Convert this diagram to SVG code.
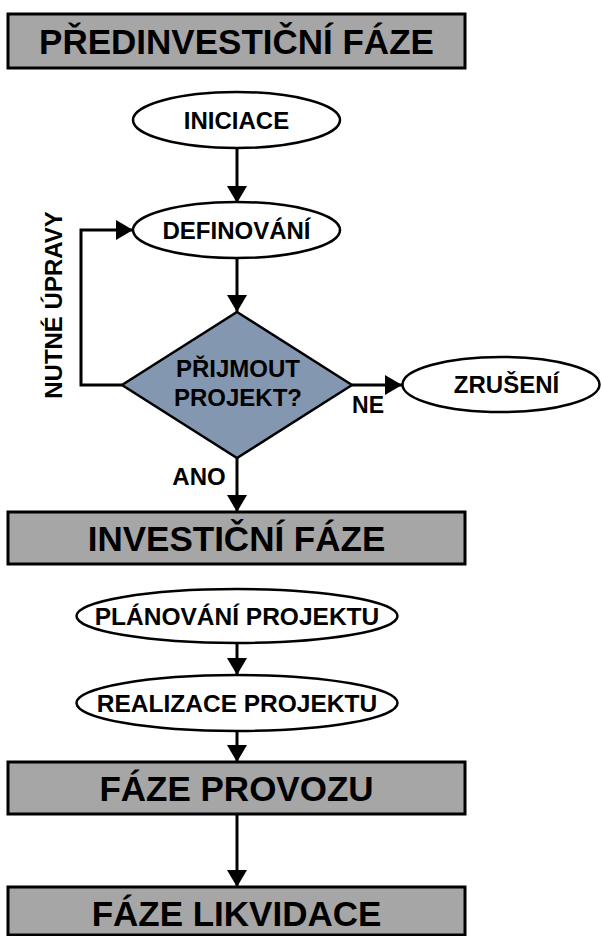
<svg xmlns="http://www.w3.org/2000/svg" width="602" height="936" viewBox="0 0 602 936">
<style>
.box{fill:#a6a6a6;stroke:#000;stroke-width:3}
.ell{fill:#fff;stroke:#000;stroke-width:2.5}
.dia{fill:#8497b0;stroke:#000;stroke-width:2.5}
.t{font-family:"Liberation Sans",Arial,sans-serif;font-weight:bold;fill:#000;text-anchor:middle}
.big{font-size:35px}
.mid{font-size:24px}
.con{fill:none;stroke:#000;stroke-width:3}
</style>
<defs>
<marker id="ah" markerUnits="userSpaceOnUse" markerWidth="18" markerHeight="20" refX="17" refY="10" orient="auto">
<path d="M0,0 L17,10 L0,20 z" fill="#000"/>
</marker>
</defs>
<rect width="602" height="936" fill="#fff"/>
<g id="connectors">
<line class="con" x1="237" y1="148" x2="237" y2="203" marker-end="url(#ah)"/>
<line class="con" x1="237" y1="258" x2="237" y2="312" marker-end="url(#ah)"/>
<polyline class="con" points="122,385 81,385 81,230 133,230" marker-end="url(#ah)"/>
<line class="con" x1="352" y1="385" x2="402" y2="385" marker-end="url(#ah)"/>
<line class="con" x1="237" y1="458" x2="237" y2="512" marker-end="url(#ah)"/>
<line class="con" x1="237" y1="643" x2="237" y2="675" marker-end="url(#ah)"/>
<line class="con" x1="237" y1="731" x2="237" y2="762" marker-end="url(#ah)"/>
<line class="con" x1="237" y1="814" x2="237" y2="887" marker-end="url(#ah)"/>
<text class="t mid" transform="translate(62,305) rotate(-90)">NUTNÉ ÚPRAVY</text>
<text class="t" style="font-size:23px" x="368" y="413">NE</text>
<text class="t mid" x="199" y="485">ANO</text>
</g>
<g id="predinvesticni">
<rect class="box" x="8" y="14" width="457" height="54"/>
<text class="t big" x="236.5" y="53.5">PŘEDINVESTIČNÍ FÁZE</text>
</g>
<g id="iniciace">
<ellipse class="ell" cx="236.5" cy="120" rx="103.5" ry="28"/>
<text class="t mid" x="236.5" y="129">INICIACE</text>
</g>
<g id="definovani">
<ellipse class="ell" cx="236.5" cy="230" rx="103.5" ry="28"/>
<text class="t mid" x="236.5" y="239">DEFINOVÁNÍ</text>
</g>
<g id="prijmout">
<polygon class="dia" points="237,312 352,385 237,458 122,385"/>
<text class="t mid" x="238" y="377">PŘIJMOUT</text>
<text class="t mid" x="238" y="406">PROJEKT?</text>
</g>
<g id="zruseni">
<ellipse class="ell" cx="501" cy="384.5" rx="98.5" ry="27.5"/>
<text class="t mid" x="506.5" y="393">ZRUŠENÍ</text>
</g>
<g id="investicni">
<rect class="box" x="8" y="512" width="457" height="52"/>
<text class="t big" x="236.5" y="550.5">INVESTIČNÍ FÁZE</text>
</g>
<g id="planovani">
<ellipse class="ell" cx="237" cy="616" rx="160.5" ry="27"/>
<text class="t" style="font-size:24.5px" x="237" y="625">PLÁNOVÁNÍ PROJEKTU</text>
</g>
<g id="realizace">
<ellipse class="ell" cx="237" cy="703" rx="160.5" ry="28"/>
<text class="t" style="font-size:24.5px" x="237" y="712">REALIZACE PROJEKTU</text>
</g>
<g id="provoz">
<rect class="box" x="8" y="762" width="457" height="52"/>
<text class="t big" x="236.5" y="800.5">FÁZE PROVOZU</text>
</g>
<g id="likvidace">
<rect class="box" x="8" y="887" width="457" height="48"/>
<text class="t big" x="236.5" y="926">FÁZE LIKVIDACE</text>
</g>
</svg>
